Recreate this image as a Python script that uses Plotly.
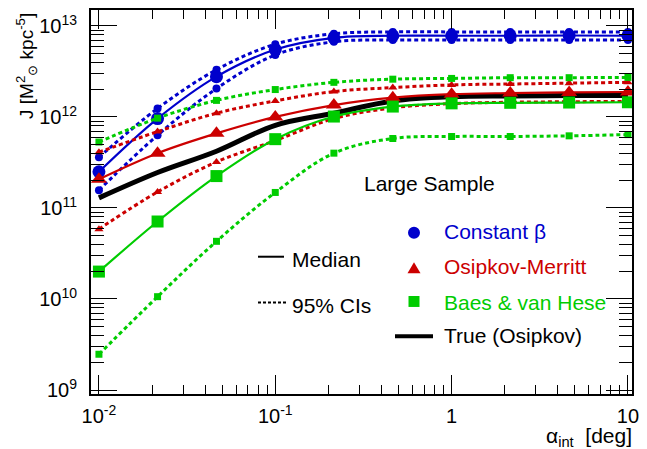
import plotly.graph_objects as go

# ---------------- data ----------------
alpha = [0.01, 0.0215, 0.0464, 0.1, 0.215, 0.464, 1.0, 2.15, 4.64, 10.0]

blue_med = [2.5e11, 9.6e11, 2.77e12, 5.5e12, 7.4e12, 7.8e12, 7.8e12, 7.8e12, 7.85e12, 7.8e12]
blue_hi = [3.6e11, 1.24e12, 3.3e12, 6.3e12, 8.2e12, 8.6e12, 8.6e12, 8.6e12, 8.6e12, 8.6e12]
blue_lo = [1.57e11, 6.3e11, 2.05e12, 4.8e12, 6.7e12, 7.0e12, 7.0e12, 7.0e12, 7.0e12, 7.0e12]

red_med = [2.07e11, 4.0e11, 6.6e11, 1.0e12, 1.35e12, 1.63e12, 1.78e12, 1.83e12, 1.86e12, 1.88e12]
red_hi = [4.1e11, 6.9e11, 1.1e12, 1.5e12, 1.9e12, 2.1e12, 2.25e12, 2.3e12, 2.35e12, 2.4e12]
red_lo = [5.85e10, 1.5e11, 3.2e11, 5.5e11, 9.6e11, 1.26e12, 1.4e12, 1.45e12, 1.47e12, 1.48e12]

green_med = [2.0e10, 7.1e10, 2.24e11, 5.7e11, 1.01e12, 1.30e12, 1.41e12, 1.43e12, 1.44e12, 1.45e12]
green_hi = [5.3e11, 9.7e11, 1.52e12, 2.0e12, 2.4e12, 2.6e12, 2.65e12, 2.7e12, 2.7e12, 2.72e12]
green_lo = [2.47e9, 1.06e10, 4.3e10, 1.48e11, 4.0e11, 5.8e11, 6.1e11, 6.1e11, 6.2e11, 6.4e11]

true_osipkov = [1.29e11, 2.45e11, 4.2e11, 8.1e11, 1.1e12, 1.5e12, 1.67e12, 1.7e12, 1.72e12, 1.72e12]

x_tickvals = [0.01, 0.1, 1, 10]
x_ticktext = ["10<sup>-2</sup>", "10<sup>-1</sup>", "1", "10"]
y_tickvals = [1e9, 1e10, 1e11, 1e12, 1e13]
y_ticktext = ["10<sup>9</sup>", "10<sup>10</sup>", "10<sup>11</sup>", "10<sup>12</sup>", "10<sup>13</sup>"]

BLUE = "#0000cc"
RED = "#cc0000"
GREEN = "#00cc00"
FONT = "Liberation Sans, Arial, Helvetica, sans-serif"

W, H = 647, 449
L, R, T, B = 91, 632, 8, 394  # plot frame in pixels


def px(x):
    return (x - L) / (R - L)


def py(y):
    return (B - y) / (B - T)


fig = go.Figure()

# true curve
fig.add_trace(go.Scatter(x=alpha, y=true_osipkov, mode="lines",
                         line=dict(color="black", width=5, shape="spline"),
                         showlegend=False, hoverinfo="skip"))

series = [
    (BLUE, "circle", blue_med, blue_hi, blue_lo, 13, 8),
    (RED, "triangle-up", red_med, red_hi, red_lo, 14, 8),
    (GREEN, "square", green_med, green_hi, green_lo, 12, 7),
]
for col, sym, med, hi, lo, big, small in series:
    for yy in (hi, lo):
        fig.add_trace(go.Scatter(x=alpha, y=yy, mode="lines+markers",
                                 line=dict(color=col, width=3, dash="4px,3px", shape="spline"),
                                 marker=dict(symbol=sym, size=small, color=col, line=dict(width=0)),
                                 showlegend=False, hoverinfo="skip"))
    fig.add_trace(go.Scatter(x=alpha, y=med, mode="lines+markers",
                             line=dict(color=col, width=2.2, shape="spline"),
                             marker=dict(symbol=sym, size=big, color=col, line=dict(width=0)),
                             showlegend=False, hoverinfo="skip"))


def minor_vals(lo_dec, hi_dec):
    out = []
    for d in range(lo_dec, hi_dec + 1):
        for k in range(2, 10):
            out.append(k * 10.0 ** d)
    return out


fig.update_xaxes(type="log", range=[-2.045, 1.023],
                 tickmode="array", tickvals=x_tickvals, ticktext=x_ticktext,
                 ticks="inside", ticklen=19, tickwidth=1, tickcolor="black",
                 showline=True, linewidth=2, linecolor="black", mirror="allticks",
                 showgrid=False, zeroline=False,
                 tickfont=dict(family=FONT, size=20, color="black"),
                 ticklabelstandoff=3,
                 minor=dict(tickmode="array", tickvals=minor_vals(-3, 1), ticks="inside",
                            ticklen=9, tickwidth=1, tickcolor="black", showgrid=False))
fig.update_yaxes(type="log", range=[8.956, 13.175],
                 tickmode="array", tickvals=y_tickvals, ticktext=y_ticktext,
                 ticks="inside", ticklen=26, tickwidth=1, tickcolor="black",
                 showline=True, linewidth=2, linecolor="black", mirror="allticks",
                 showgrid=False, zeroline=False,
                 tickfont=dict(family=FONT, size=20, color="black"),
                 ticklabelstandoff=8,
                 minor=dict(tickmode="array", tickvals=minor_vals(8, 13), ticks="inside",
                            ticklen=13, tickwidth=1, tickcolor="black", showgrid=False))

ann = []


def text(x, y, s, color="black", size=21, xanchor="left", angle=0, yanchor="middle"):
    ann.append(dict(x=px(x), y=py(y), xref="paper", yref="paper", text=s, showarrow=False,
                    xanchor=xanchor, yanchor=yanchor, textangle=angle,
                    font=dict(family=FONT, size=size, color=color)))


text(362, 182, "Large Sample")
text(442, 231, "Constant β", BLUE)
text(442, 266, "Osipkov-Merritt", RED)
text(442, 302, "Baes &amp; van Hese", GREEN)
text(442, 335, "True (Osipkov)")
text(290, 259, "Median")
text(290, 305, "95% CIs")
text(634, 437, "α<sub>int</sub>  [deg]", xanchor="right")
text(27, 9, "J [M<sup>2</sup><sub>⊙</sub> kpc<sup>-5</sup>]", size=19, angle=-90, xanchor="center", yanchor="top")

shapes = []
# legend symbols
shapes.append(dict(type="circle", xref="paper", yref="paper",
                   x0=px(408), x1=px(420), y0=py(238), y1=py(226),
                   fillcolor=BLUE, line=dict(width=0)))
tri = "M {},{} L {},{} L {},{} Z".format(px(407.5), py(272.5), px(420.5), py(272.5), px(414), py(261.5))
shapes.append(dict(type="path", xref="paper", yref="paper", path=tri,
                   fillcolor=RED, line=dict(width=0)))
shapes.append(dict(type="rect", xref="paper", yref="paper",
                   x0=px(408.5), x1=px(419.5), y0=py(306.5), y1=py(295.5),
                   fillcolor=GREEN, line=dict(width=0)))
shapes.append(dict(type="line", xref="paper", yref="paper",
                   x0=px(395), x1=px(433), y0=py(336), y1=py(336),
                   line=dict(color="black", width=4)))
shapes.append(dict(type="line", xref="paper", yref="paper",
                   x0=px(258), x1=px(284), y0=py(256), y1=py(256),
                   line=dict(color="black", width=2)))
shapes.append(dict(type="line", xref="paper", yref="paper",
                   x0=px(258), x1=px(287), y0=py(302), y1=py(302),
                   line=dict(color="black", width=2, dash="3px,2px")))

fig.update_layout(width=W, height=H,
                  margin=dict(l=L, r=W - R, t=T, b=H - B, pad=0),
                  paper_bgcolor="white", plot_bgcolor="white",
                  showlegend=False, annotations=ann, shapes=shapes,
                  font=dict(family=FONT, color="black"))

fig.write_html("out.html", config={"displayModeBar": False},
               post_script="document.body.style.margin='0';document.body.style.padding='0';document.body.style.overflow='hidden';")
